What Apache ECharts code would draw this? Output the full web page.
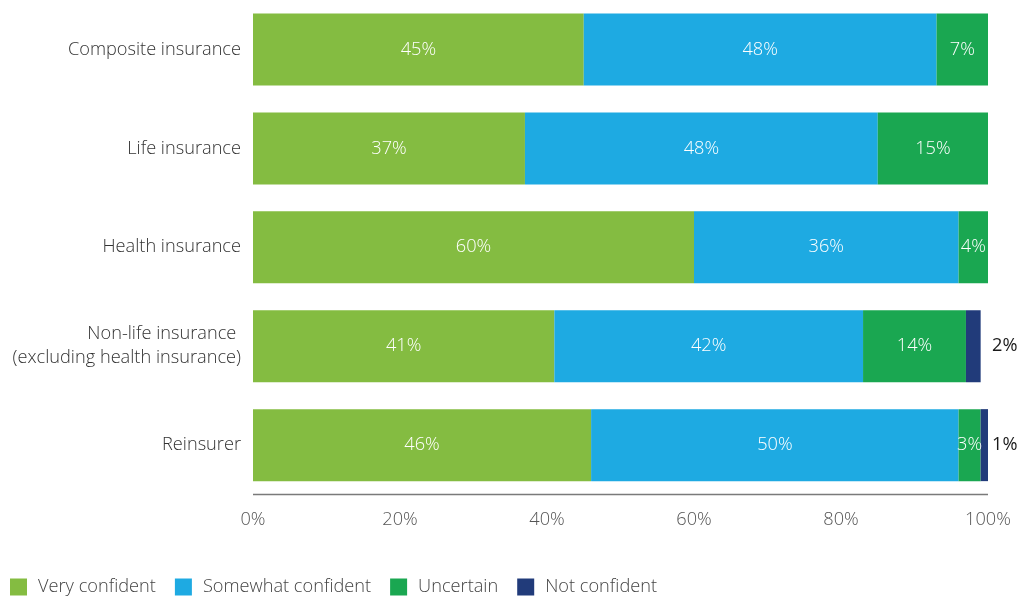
<!DOCTYPE html>
<html>
<head>
<meta charset="utf-8">
<script src="https://cdn.jsdelivr.net/npm/echarts@6/dist/echarts.min.js"></script>
<style>
html,body{margin:0;padding:0;background:#fff;}
#c{width:1018px;height:597px;}
</style>
</head>
<body>
<div id="c"></div>
<script>
const categories = ["Composite insurance", "Life insurance", "Health insurance", "Non-life insurance \n(excluding health insurance)", "Reinsurer"];
const seriesNames = ["Very confident", "Somewhat confident", "Uncertain", "Not confident"];
const veryConfident = [45, 37, 60, 41, 46];
const somewhatConfident = [48, 48, 36, 42, 50];
const uncertain = [7, 15, 4, 14, 3];
const notConfident = [0, 0, 0, 2, 1];
const xTicks = [0, 20, 40, 60, 80, 100];

const colors = ["#84bc41", "#1eaae2", "#1aa751", "#213b7a"];
const font = "'Open Sans', sans-serif";
const weight = 300;
const fs = 18.2;
const values = [veryConfident, somewhatConfident, uncertain, notConfident];
const outsideGap = 4;

const chart = echarts.init(document.getElementById('c'), null, {renderer: 'canvas'});
const series = seriesNames.map((name, i) => ({
  name: name,
  type: 'bar',
  stack: 'total',
  barWidth: 72,
  data: values[i].map((v, k) => {
    if (i !== 3) return v;
    const total = veryConfident[k] + somewhatConfident[k] + uncertain[k] + notConfident[k];
    const dist = outsideGap + (100 - total) * 7.35;
    return {value: v, label: {distance: dist}};
  }).reverse(),
  itemStyle: {color: colors[i]},
  label: {
    show: true,
    position: i === 3 ? 'right' : 'inside',
    distance: outsideGap,
    color: i === 3 ? '#1a1a1a' : '#fff',
    fontFamily: font,
    fontWeight: i === 3 ? 400 : weight,
    fontSize: fs,
    formatter: p => p.value > 0 ? p.value + '%' : ''
  }
}));

chart.setOption({
  animation: false,
  textStyle: {fontFamily: font},
  legend: {
    left: 10,
    top: 578,
    itemWidth: 17,
    itemHeight: 17,
    itemGap: 19,
    padding: 0,
    icon: 'rect',
    textStyle: {color: '#444', fontSize: fs, fontWeight: weight, fontFamily: font, padding: [0, 0, 0, 6]},
    data: seriesNames
  },
  grid: {left: 253, right: 30, top: -1.6, bottom: 102.4, containLabel: false},
  xAxis: {
    type: 'value',
    min: 0,
    max: 100,
    interval: 20,
    axisLine: {show: false},
    axisTick: {show: false},
    splitLine: {show: false},
    axisLabel: {color: '#555', fontSize: fs, fontWeight: weight, fontFamily: font, margin: 16, formatter: v => xTicks.includes(v) ? v + '%' : ''}
  },
  yAxis: {
    type: 'category',
    data: categories.slice().reverse(),
    axisLine: {show: false},
    axisTick: {show: false},
    axisLabel: {color: '#333', fontSize: fs, fontWeight: weight, fontFamily: font, margin: 12, lineHeight: 24, align: 'right'}
  },
  series: series
});
const p0 = chart.convertToPixel({xAxisIndex: 0}, 0);
const p1 = chart.convertToPixel({xAxisIndex: 0}, 100);
chart.setOption({
  graphic: [{
    type: 'line',
    shape: {x1: p0, y1: 494.5, x2: p1, y2: 494.5},
    style: {stroke: '#7a7a7a', lineWidth: 1.5}
  }]
});
</script>
</body>
</html>
